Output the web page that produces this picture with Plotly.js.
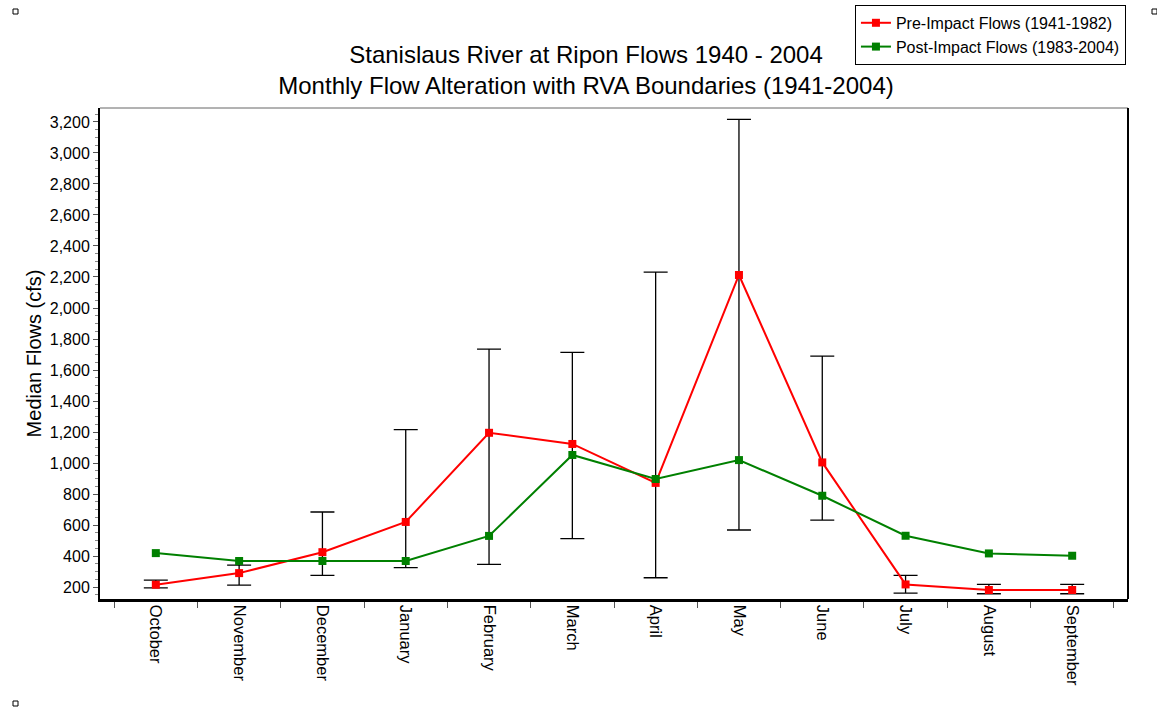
<!DOCTYPE html>
<html>
<head>
<meta charset="utf-8">
<script src="https://cdn.plot.ly/plotly-3.0.1.min.js"></script>
<style>html,body{margin:0;padding:0;background:#fff;}#chart{width:1157px;height:708px;}</style>
</head>
<body>
<div id="chart"></div>
<script>
const months = ["October","November","December","January","February","March","April","May","June","July","August","September"];
const preImpact = [215, 290, 425, 620, 1195, 1123, 872, 2213, 1004, 217, 181, 181];
const postImpact = [419, 368, 368, 368, 530, 1052, 897, 1019, 789, 531, 417, 402];
const rvaHigh = [245, 342, 684, 1216, 1735, 1714, 2232, 3217, 1690, 275, 217, 217];
const rvaLow = [195, 212, 275, 325, 346, 512, 260, 568, 632, 161, 157, 157];
const yTickVals = [200,400,600,800,1000,1200,1400,1600,1800,2000,2200,2400,2600,2800,3000,3200];

const errPlus = rvaHigh.map((h,i)=>h-preImpact[i]);
const errMinus = rvaLow.map((l,i)=>preImpact[i]-l);

const FONT = "Liberation Sans, Arial, sans-serif";

const traces = [
  {
    x: months, y: preImpact, type: "scatter", mode: "lines+markers",
    name: "Pre-Impact Flows (1941-1982)",
    line: {color: "#ff0000", width: 2},
    marker: {color: "#ff0000", symbol: "square", size: 8},
    error_y: {type: "data", symmetric: false, array: errPlus, arrayminus: errMinus,
              color: "#000000", thickness: 1.3, width: 12}
  },
  {
    x: months, y: postImpact, type: "scatter", mode: "lines+markers",
    name: "Post-Impact Flows (1983-2004)",
    line: {color: "#008000", width: 2},
    marker: {color: "#008000", symbol: "square", size: 8}
  }
];

function px2x(p){ return (p-100)/1028; }
function px2y(p){ return (599-p)/491; }
function sq(cx, cy){
  return {type:"rect", xref:"paper", yref:"paper", x0:px2x(cx-2.5), x1:px2x(cx+2.5), y0:px2y(cy+2.5), y1:px2y(cy-2.5),
          line:{color:"#000", width:1}, fillcolor:"rgba(0,0,0,0)"};
}

const layout = {
  width: 1157, height: 708,
  margin: {l: 100, r: 29, t: 108, b: 109, autoexpand: false},
  paper_bgcolor: "#fff", plot_bgcolor: "#fff",
  font: {family: FONT, size: 14, color: "#000"},
  title: {
    text: "Stanislaus River at Ripon Flows 1940 - 2004<br>Monthly Flow Alteration with RVA Boundaries (1941-2004)",
    font: {family: FONT, size: 24, color: "#000"},
    xref: "container", x: 0.5065, xanchor: "center",
    yref: "container", y: 0.911, yanchor: "top"
  },
  showlegend: true,
  legend: {
    x: 0.998, xanchor: "right", y: 1.21, yanchor: "top",
    bordercolor: "#000", borderwidth: 1, bgcolor: "#fff",
    font: {family: FONT, size: 16, color: "#000"},
    tracegroupgap: 0, itemwidth: 30
  },
  xaxis: {
    type: "category", range: [-0.67, 11.67], automargin: false,
    tickangle: 90, tickson: "boundaries", ticks: "outside", ticklen: 6, tickcolor: "#555", tickwidth: 1,
    showline: true, linecolor: "#000", linewidth: 2.5,
    showgrid: false, zeroline: false,
    tickfont: {family: FONT, size: 16.5, color: "#000"}
  },
  yaxis: {
    range: [123, 3290], automargin: false,
    tickvals: yTickVals, ticktext: yTickVals.map(v=>v.toLocaleString("en-US")),
    ticks: "outside", ticklen: 5, tickcolor: "#555", tickwidth: 1,
    minor: {dtick: 50, tick0: 0, ticks: "outside", ticklen: 3, tickcolor: "#888", showgrid: false},
    showline: true, linecolor: "#000", linewidth: 2,
    showgrid: false, zeroline: false,
    tickfont: {family: FONT, size: 16, color: "#000"},
    title: {text: "Median Flows (cfs)", font: {family: FONT, size: 20, color: "#000"}, standoff: 3}
  },
  shapes: [
    {type:"line", xref:"paper", yref:"paper", x0:0, x1:1, y0:1, y1:1, line:{color:"#666", width:1}},
    {type:"line", xref:"paper", yref:"paper", x0:1, x1:1, y0:0, y1:1, line:{color:"#000", width:2}},
    sq(15.5, 11.5), sq(15.5, 703.5), sq(1154.5, 11.5)
  ]
};

Plotly.newPlot("chart", traces, layout, {displayModeBar: false, staticPlot: true});
</script>
</body>
</html>
